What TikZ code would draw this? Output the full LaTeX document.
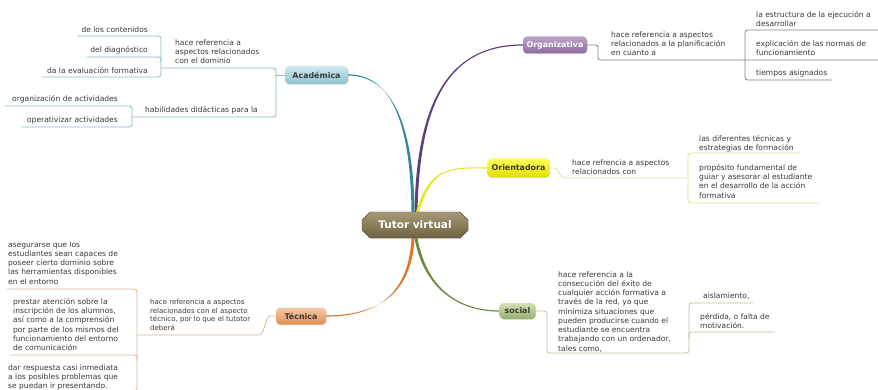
\documentclass[tikz,border=0pt]{standalone}
\usepackage{fontspec}
\setmainfont{DejaVu Sans}
\usetikzlibrary{calc,shapes.misc,shadows,backgrounds}

\definecolor{ink}{HTML}{3A3A3A}
\definecolor{acadC}{HTML}{2F8797}
\definecolor{acadL}{HTML}{8DBBC8}
\definecolor{acadT}{HTML}{CFE8EF}
\definecolor{acadB}{HTML}{8EC2D2}
\definecolor{orgC}{HTML}{5A3F7C}
\definecolor{orgL}{HTML}{8A7B96}
\definecolor{orgT}{HTML}{BCA4C6}
\definecolor{orgB}{HTML}{8C6B9D}
\definecolor{oriC}{HTML}{E9E61C}
\definecolor{oriL}{HTML}{E5E3A0}
\definecolor{oriT}{HTML}{FFFF55}
\definecolor{oriB}{HTML}{E2DC00}
\definecolor{tecC}{HTML}{DE7628}
\definecolor{tecL}{HTML}{DDB794}
\definecolor{tecT}{HTML}{F8CBA8}
\definecolor{tecB}{HTML}{DE8E55}
\definecolor{socC}{HTML}{6C8A3B}
\definecolor{socL}{HTML}{B9C59E}
\definecolor{socT}{HTML}{D2E0B4}
\definecolor{socB}{HTML}{97AF6C}
\definecolor{rootT}{HTML}{A79A78}
\definecolor{rootB}{HTML}{6E6140}

\begin{document}
\begin{tikzpicture}[x=1pt,y=-1pt,
  topic/.style={rounded corners=4pt, inner sep=0pt,
    font=\fontsize{7.9}{9}\selectfont\bfseries,
    drop shadow={opacity=0.22,shadow xshift=0.8pt,shadow yshift=-0.9pt}},
  txt/.style={font=\fontsize{7.55}{9.25}\selectfont, text=ink, inner sep=0pt, align=left},
  small/.style={txt, font=\fontsize{7}{8.5}\selectfont},
  sub/.style={line width=0.8pt, line cap=round}]

\useasboundingbox (0,0) rectangle (878,390);

% central topic and main branches
\node[chamfered rectangle, chamfered rectangle xsep=4pt, chamfered rectangle ysep=4pt,
      minimum width=106pt, minimum height=26pt, inner sep=0pt,
      top color=rootT, bottom color=rootB, draw=rootB!80!black, line width=0.4pt,
      font=\fontsize{10.5}{12}\selectfont\bfseries, text=white,
      drop shadow={opacity=0.2,shadow xshift=1pt,shadow yshift=-1pt}]
      (tutor) at (415,225) {Tutor virtual};

\node[topic, minimum width=63pt, minimum height=18pt, top color=acadT, bottom color=acadB, text=ink]
      (acad) at (316.5,75) {Académica};
\node[topic, minimum width=64pt, minimum height=17pt, top color=orgT, bottom color=orgB, text=white]
      (org) at (555,45) {Organizativa};
\node[topic, minimum width=62pt, minimum height=19pt, top color=oriT, bottom color=oriB, text=ink]
      (ori) at (518.5,168) {Orientadora};
\node[topic, minimum width=50pt, minimum height=17pt, top color=tecT, bottom color=tecB, text=ink]
      (tec) at (301,316) {Técnica};
\node[topic, minimum width=36pt, minimum height=16pt, top color=socT, bottom color=socB, text=ink]
      (soc) at (517.5,311) {social};

\begin{scope}[on background layer]
  \fill[white] (0,0) rectangle (878,390);
  % tapered branches from the central topic
  \fill[orgC] ($(tutor.north)+(-0.5,0)$) .. controls (416.5,100) and (450,44.4) .. ($(org.west)+(0,-0.6)$)
      -- ($(org.west)+(0,0.6)$) .. controls (450,45.6) and (419.5,100) .. ($(tutor.north)+(2.5,0)$) -- cycle;
  \fill[acadC] ($(tutor.north)+(-3.5,0)$) .. controls (410.5,120) and (390,74.4) .. ($(acad.east)+(0,-0.6)$)
      -- ($(acad.east)+(0,0.6)$) .. controls (390,75.6) and (413.5,120) .. ($(tutor.north)+(-0.5,0)$) -- cycle;
  \fill[oriC] ($(tutor.north)+(1,0)$) .. controls (429,170) and (445,166.4) .. ($(ori.west)+(0,-0.6)$)
      -- ($(ori.west)+(0,0.6)$) .. controls (445,167.6) and (432,170) .. ($(tutor.north)+(4,0)$) -- cycle;
  \fill[tecC] ($(tutor.south)+(-3.5,0)$) .. controls (408.5,300) and (370,316.6) .. ($(tec.east)+(0,0.6)$)
      -- ($(tec.east)+(0,-0.6)$) .. controls (370,315.4) and (411.5,300) .. ($(tutor.south)+(-0.5,0)$) -- cycle;
  \fill[socC] ($(tutor.south)+(-0.5,0)$) .. controls (424,290) and (460,311.6) .. ($(soc.west)+(0,0.6)$)
      -- ($(soc.west)+(0,-0.6)$) .. controls (460,310.4) and (427,290) .. ($(tutor.south)+(2.5,0)$) -- cycle;
\end{scope}

% ---------- Académica ----------
\node[txt, anchor=north west] (ac0) at (175,39.2) {hace referencia a\\aspectos relacionados\\con el dominio};
\node[txt, anchor=east] (ac1) at (148,30) {de los contenidos};
\node[txt, anchor=east] (ac2) at (148,50) {del diagnóstico};
\node[txt, anchor=east] (ac3) at (148,71) {da la evaluación formativa};
\node[txt, anchor=west] (ad0) at (145,110) {habilidades didácticas para la};
\node[txt, anchor=east] (ad1) at (118,99) {organización de actividades};
\node[txt, anchor=east] (ad2) at (118,120) {operativizar actividades};

\coordinate (acJ) at (276,75);
\draw[sub, acadL] (acad.west) -- (acJ);
\draw[sub, acadL] (161,68) -- (270,68) .. controls (276,68) .. (276,74) -- (276,111)
      .. controls (276,117) .. (270,117) -- (132,117);
\draw[sub, acadL] (77,36) -- (155,36) .. controls (161,36) .. (161,42) -- (161,71)
      .. controls (161,77) .. (155,77) -- (42,77);
\draw[sub, acadL] (87,57) -- (155,57) .. controls (161,57) .. (161,62);
\draw[sub, acadL] (5,106) -- (126,106) .. controls (132,106) .. (132,111) -- (132,122)
      .. controls (132,127) .. (126,127) -- (22,127);

% ---------- Organizativa ----------
\node[txt, anchor=north west] (or0) at (611,31.2) {hace referencia a aspectos\\relacionados a la planificación\\en cuanto a};
\node[txt, anchor=north west] (or1) at (756,11.2) {la estructura de la ejecución a\\desarrollar};
\node[txt, anchor=north west] (or2) at (756,40.2) {explicación de las normas de\\funcionamiento};
\node[txt, anchor=west] (or3) at (756,73) {tiempos asignados};

\draw[sub, orgL] (org.east) -- (593,45) .. controls (598,45) .. (598,50) -- (598,55)
      .. controls (598,60) .. (604,60) -- (880,60);
\draw[sub, orgL] (880,30) -- (751,30) .. controls (745,30) .. (745,36) -- (745,74)
      .. controls (745,80) .. (751,80) -- (832,80);

% ---------- Orientadora ----------
\node[txt, anchor=north west] (ori0) at (572,159.2) {hace refrencia a aspectos\\relacionados con};
\node[txt, anchor=north west] (ori1) at (699,135.2) {las diferentes técnicas y\\estrategias de formación};
\node[txt, anchor=north west] (ori2) at (699,164.2) {propósito fundamental de\\guiar y asesorar al estudiante\\en el desarrollo de la acción\\formativa};

\draw[sub, oriL] (ori.east) -- (554,168) .. controls (559,168) and (559,178) .. (565,178) -- (688,178);
\draw[sub, oriL] (800,153) -- (694,153) .. controls (688,153) .. (688,159) -- (688,197)
      .. controls (688,203) .. (694,203) -- (820,203);

% ---------- Técnica ----------
\node[small, anchor=north west] (tec0) at (150,299.4) {hace referencia a aspectos\\relacionados con el aspecto\\técnico, por lo que el tutotor\\deberá};
\node[txt, anchor=north west] (tec1) at (8,241.2) {asegurarse que los\\estudiantes sean capaces de\\poseer cierto dominio sobre\\las herramientas disponibles\\en el entorno};
\node[txt, anchor=north west] (tec2) at (13,298.2) {prestar atención sobre la\\inscripción de los alumnos,\\así como a la comprensión\\por parte de los mismos del\\funcionamiento del entorno\\de comunicación};
\node[txt, anchor=north west] (tec3) at (8,364.2) {dar respuesta casi inmediata\\a los posibles problemas que\\se puedan ir presentando.};

\draw[sub, tecL] (tec.west) -- (270,316) .. controls (265,316) and (265,335) .. (259,335) -- (137,335);
\draw[sub, tecL] (7,289) -- (130,289) .. controls (137,289) .. (137,296) -- (137,384)
      .. controls (137,391) .. (130,391) -- (5,391);
\draw[sub, tecL] (10,355) -- (131,355) .. controls (137,355) .. (137,361);

% ---------- social ----------
\node[txt, anchor=north west] (soc0) at (558,271.2) {hace referencia a la\\consecución del éxito de\\cualquier acción formativa a\\través de la red, ya que\\minimiza situaciones que\\pueden producirse cuando el\\estudiante se encuentra\\trabajando con un ordenador,\\tales como,};
\node[txt, anchor=west] (soc1) at (703,296) {aislamiento,};
\node[txt, anchor=north west] (soc2) at (700,313.2) {pérdida, o falta de\\motivación.};

\draw[sub, socL] (soc.east) -- (541,311) .. controls (547,311) .. (547,317) -- (547,347)
      .. controls (547,353) .. (553,353) -- (683,353) .. controls (689,353) .. (689,347)
      -- (689,309) .. controls (689,303) .. (695,303) -- (753,303);
\draw[sub, socL] (689,338) .. controls (689,332) .. (695,332) -- (775,332);

\end{tikzpicture}
\end{document}
